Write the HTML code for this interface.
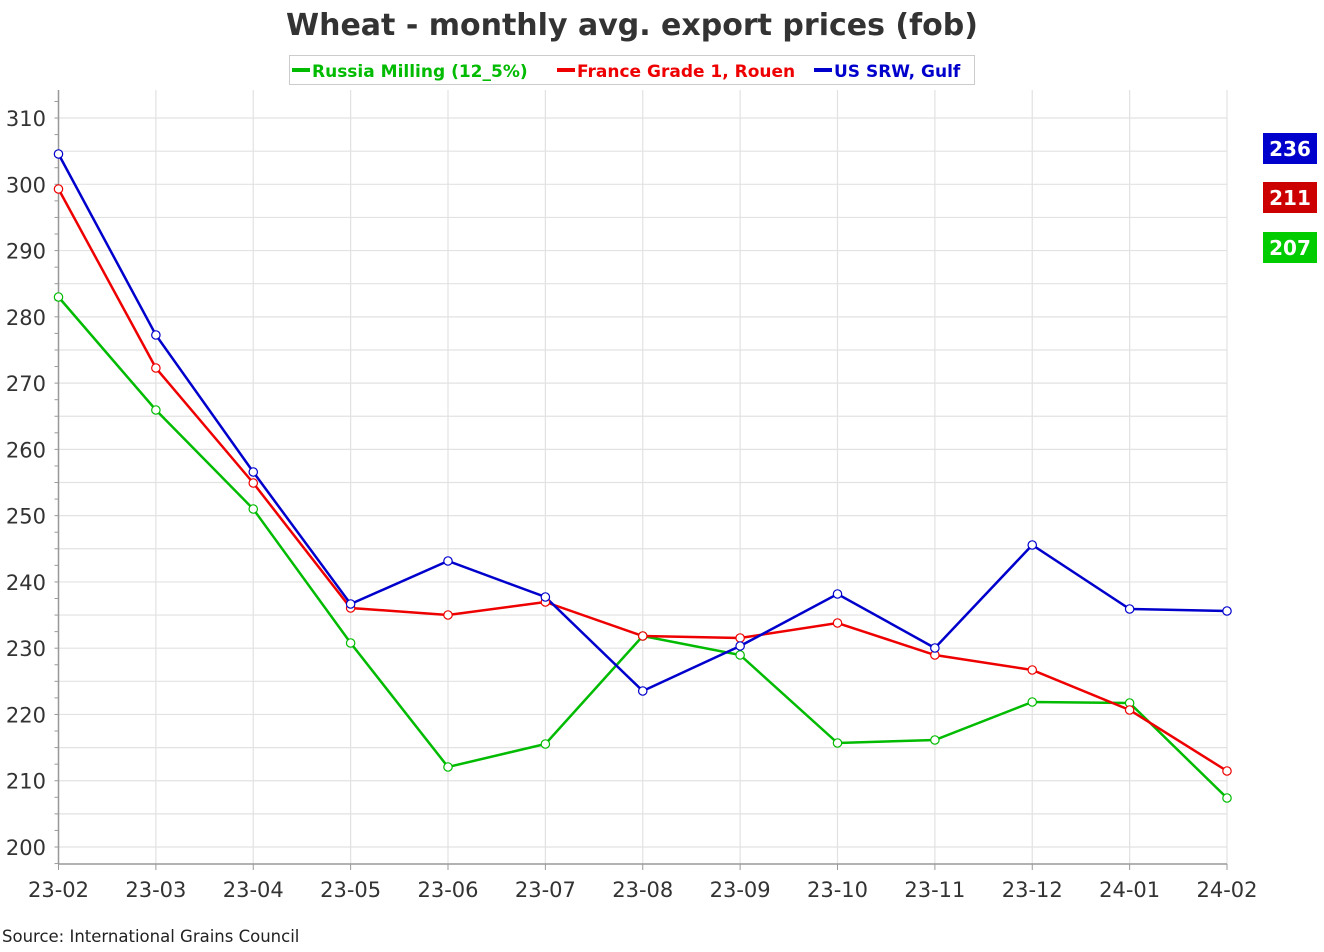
<!DOCTYPE html>
<html><head><meta charset="utf-8"><style>
body{margin:0;background:#fff;}
svg text{font-family:"DejaVu Sans","Liberation Sans",sans-serif;}
</style></head><body>
<svg width="1324" height="947" xmlns="http://www.w3.org/2000/svg">
<rect width="1324" height="947" fill="#fff"/>
<text x="632" y="35" text-anchor="middle" font-size="30" font-weight="bold" fill="#333">Wheat - monthly avg. export prices (fob)</text>
<rect x="289.5" y="55.5" width="685" height="29" fill="#fff" stroke="#ccc"/>
<rect x="292" y="68" width="18" height="4" fill="#00bb00"/>
<text x="312" y="77" font-size="17" font-weight="bold" fill="#00bb00">Russia Milling (12_5%)</text>
<rect x="557" y="68" width="18" height="4" fill="#ee0000"/>
<text x="577" y="77" font-size="17" font-weight="bold" fill="#ee0000">France Grade 1, Rouen</text>
<rect x="814" y="68" width="18" height="4" fill="#0000cc"/>
<text x="834" y="77" font-size="17" font-weight="bold" fill="#0000cc">US SRW, Gulf</text>
<g id="grid" stroke="#e2e2e2" stroke-width="1.2"></g>
<g id="axes"></g>
<g id="series"></g>
<rect x="1263" y="133" width="54" height="31" fill="#0000cc"/>
<text x="1290" y="156" text-anchor="middle" font-size="20" font-weight="bold" fill="#fff">236</text>
<rect x="1263" y="182" width="54" height="31" fill="#cc0000"/>
<text x="1290" y="205" text-anchor="middle" font-size="20" font-weight="bold" fill="#fff">211</text>
<rect x="1263" y="232" width="54" height="31" fill="#00cc00"/>
<text x="1290" y="255" text-anchor="middle" font-size="20" font-weight="bold" fill="#fff">207</text>
<text x="2" y="942" font-size="16.5" fill="#222">Source: International Grains Council</text>
</svg>
<script>
(function(){
const ns="http://www.w3.org/2000/svg";
function el(p,t,a,txt){const e=document.createElementNS(ns,t);for(const k in a)e.setAttribute(k,a[k]);if(txt!==undefined)e.textContent=txt;p.appendChild(e);return e;}
const g=document.getElementById('grid'),ax=document.getElementById('axes'),s=document.getElementById('series');
const X0=58.5,DX=(1227-58.5)/12,T=90,B=864;
const Y=v=>847-(v-200)*6.627;
for(let v=200;v<=314;v+=5){el(g,'line',{x1:X0,x2:1227,y1:Y(v),y2:Y(v)});}
for(let v=197.5;v<=314;v+=2.5){el(ax,'line',{x1:X0-4,x2:X0,y1:Y(v),y2:Y(v),stroke:'#999'});}
const labs=['23-02','23-03','23-04','23-05','23-06','23-07','23-08','23-09','23-10','23-11','23-12','24-01','24-02'];
labs.forEach((l,i)=>{const x=X0+i*DX;el(g,'line',{x1:x,x2:x,y1:T,y2:B});el(ax,'line',{x1:x,x2:x,y1:B,y2:B+6,stroke:'#999'});el(ax,'text',{x:x,y:897,'text-anchor':'middle','font-size':21,fill:'#333'},l);});
for(let v=200;v<=310;v+=10)el(ax,'text',{x:46,y:Y(v)+8,'text-anchor':'end','font-size':21,fill:'#333'},v);
el(ax,'line',{x1:X0,x2:X0,y1:T,y2:B,stroke:'#999','stroke-width':1.5});
el(ax,'line',{x1:X0,x2:1227,y1:B,y2:B,stroke:'#999','stroke-width':1.5});
const data=[
['#00bb00',[297,410,509,643,767,744,636,655,743,740,702,703,798]],
['#ee0000',[189,368,483,608,615,602,636,638,623,655,670,710,771]],
['#0000cc',[154,335,472,604,561,597,691,646,594,648,545,609,611]]];
data.forEach(([c,ys])=>{el(s,'polyline',{points:ys.map((y,i)=>(X0+i*DX)+','+y).join(' '),fill:'none',stroke:c,'stroke-width':2.5});});
data.forEach(([c,ys])=>{ys.forEach((y,i)=>el(s,'circle',{cx:X0+i*DX,cy:y,r:4.2,fill:'#fff',stroke:c,'stroke-width':1.2}));});
})();
</script>
</body></html>
